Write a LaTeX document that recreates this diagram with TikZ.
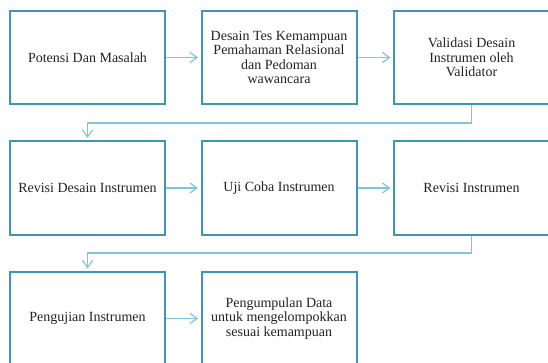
\documentclass[tikz,border=0pt]{standalone}
\usepackage{fontspec}
\setmainfont{Liberation Serif}
\usetikzlibrary{arrows.meta}
\definecolor{boxc}{HTML}{3E96B2}
\definecolor{linec}{HTML}{7EC6DB}
\definecolor{txtc}{HTML}{222222}
\begin{document}
\begin{tikzpicture}[x=1pt,y=-1pt,
  stepbox/.style={draw=boxc,line width=2pt,minimum width=155pt,minimum height=93pt,inner sep=0pt,align=center,text=txtc,font=\fontsize{14}{14.5}\selectfont},
  conn/.style={draw=linec,line width=1.2pt,-{Straight Barb[length=7pt,width=10pt]},shorten >=2.5pt}]
\useasboundingbox (0,0) rectangle (548,363);
\node[stepbox] (a) at (87.5,57.5) {Potensi Dan Masalah};
\node[stepbox] (b) at (279,57.5) {Desain Tes Kemampuan\\Pemahaman Relasional\\dan Pedoman\\wawancara};
\node[stepbox] (c) at (471.5,57.5) {Validasi Desain\\Instrumen oleh\\Validator};
\node[stepbox] (d) at (87.5,188) {Revisi Desain Instrumen};
\node[stepbox] (e) at (279,188) {Uji Coba Instrumen};
\node[stepbox] (f) at (471.5,188) {Revisi Instrumen};
\node[stepbox] (g) at (87.5,318.5) {Pengujian Instrumen};
\node[stepbox] (h) at (279,318.5) {Pengumpulan Data\\untuk mengelompokkan\\sesuai kemampuan};
\draw[conn] (a.east) -- (b.west);
\draw[conn] (b.east) -- (c.west);
\draw[conn] (c.south) -- ++(0,18) -| (d.north);
\draw[conn] (d.east) -- (e.west);
\draw[conn] (e.east) -- (f.west);
\draw[conn] (f.south) -- ++(0,17.5) -| (g.north);
\draw[conn] (g.east) -- (h.west);
\end{tikzpicture}
\end{document}
